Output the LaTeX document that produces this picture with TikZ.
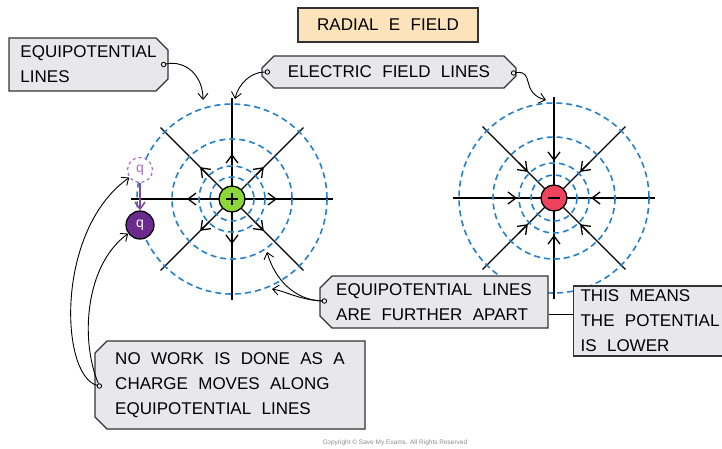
\documentclass[tikz,border=0pt]{standalone}
\usepackage{fontspec}
\setmainfont{Liberation Sans}[WordSpace=2.2]
\newfontfamily\plainsans{Liberation Sans}
\usetikzlibrary{arrows.meta,shapes.misc,calc}

\definecolor{eqblue}{HTML}{2380CC}
\definecolor{boxgrey}{HTML}{E8E8EB}
\definecolor{titlepeach}{HTML}{FDE3BC}
\definecolor{posgreen}{HTML}{8CD63A}
\definecolor{negred}{HTML}{F0425C}
\definecolor{qpurple}{HTML}{6A2A8E}
\definecolor{qlilac}{HTML}{A36BCB}

\tikzset{
  equip/.style={eqblue, line width=1.6pt, dash pattern=on 6pt off 4pt},
  fline/.style={line width=1.3pt},
  ftip/.style={-{Straight Barb[length=8pt,width=12pt]}},
  charge/.style={circle, draw, line width=1.3pt, minimum size=26pt, inner sep=0pt},
  labelbox/.style={draw=black!80, fill=boxgrey, line width=1.2pt,
    font=\fontsize{17}{25}\selectfont, align=left, inner sep=0pt},
  chamf/.style={chamfered rectangle, chamfered rectangle xsep=6pt,
    chamfered rectangle ysep=6pt, chamfered rectangle corners={#1}},
  note/.style={line width=0.9pt, -{Straight Barb[length=6pt,width=10pt]}},
  pindot/.style={circle, draw, fill=boxgrey, inner sep=0pt, minimum size=4.5pt, line width=0.8pt},
}

\begin{document}
\begin{tikzpicture}[x=1pt, y=-1pt]
  \useasboundingbox (0,0) rectangle (722,448);

  %%%%%%%%%%%%%%%%%%%%%%%%%%%%%%%%%%%%%%%%%%%%%%%%%
  % Positive charge: field lines point outwards
  \coordinate (pc) at (232,199);
  \foreach \a in {0,45,...,315} {
    \draw[fline] (pc) -- ++(\a:101);
    \draw[fline, ftip] (pc) ++(\a:32) -- ++(\a:13);
  }
  \foreach \r in {22,33,60,95}
    \draw[equip] (pc) circle[radius=\r];
  \node[charge, fill=posgreen] (pos) at (pc) {};
  \draw[line width=1.5pt] ($(pos)+(-6,0)$) -- ($(pos)+(6,0)$)
                          ($(pos)+(0,-6)$) -- ($(pos)+(0,6)$);

  %%%%%%%%%%%%%%%%%%%%%%%%%%%%%%%%%%%%%%%%%%%%%%%%%
  % Negative charge: field lines point inwards
  \coordinate (nc) at (554,198);
  \foreach \a in {0,45,...,315} {
    \draw[fline] (nc) -- ++(\a:101);
    \draw[fline, ftip] (nc) ++(\a:50) -- ++(\a+180:13);
  }
  \foreach \r in {23,35,61,95}
    \draw[equip] (nc) circle[radius=\r];
  \node[charge, fill=negred] (neg) at (nc) {};
  \draw[line width=1.5pt] ($(neg)+(-6,0)$) -- ($(neg)+(6,0)$);

  %%%%%%%%%%%%%%%%%%%%%%%%%%%%%%%%%%%%%%%%%%%%%%%%%
  % Test charge moved along the outer equipotential
  \node[circle, draw=qlilac, dashed, line width=1.2pt, fill=white, text=qlilac,
        minimum size=25pt, inner sep=0pt, font=\plainsans\fontsize{14}{14}\selectfont] (qa) at (140,170) {q};
  \node[circle, draw, line width=1.2pt, fill=qpurple, text=white,
        minimum size=28pt, inner sep=0pt, font=\plainsans\fontsize{14}{14}\selectfont] (qb) at (140,225) {q};
  \draw[qpurple!85, line width=1.6pt, -{Straight Barb[length=7pt,width=10pt]}] (qa) -- (qb);

  %%%%%%%%%%%%%%%%%%%%%%%%%%%%%%%%%%%%%%%%%%%%%%%%%
  % Labels
  \node[draw=black!80, fill=titlepeach, line width=1.2pt, inner sep=0pt,
        minimum width=180pt, minimum height=34pt,
        font=\fontsize{17}{25}\selectfont] (title) at (388,25) {RADIAL E FIELD};

  \node[labelbox, chamf={north east,south east}, minimum width=159pt,
        minimum height=53pt] (equi) at (88.5,64.5) {EQUIPOTENTIAL\\LINES};

  \node[labelbox, chamf={north west,south west,north east,south east},
        minimum width=254pt, minimum height=32pt] (efl) at (389,72) {ELECTRIC FIELD LINES};

  \node[labelbox, chamf={north west,south west}, minimum width=228pt,
        minimum height=52pt] (further) at (434,302) {EQUIPOTENTIAL LINES\\ARE FURTHER APART};

  \node[labelbox, anchor=west, inner xsep=7pt,
        minimum height=70pt] (lower) at (573,321)
        {THIS MEANS\\THE POTENTIAL\\IS LOWER};

  \node[labelbox, chamf={north west,south west}, minimum width=270pt,
        minimum height=88pt] (nowork) at (230,385)
        {NO WORK IS DONE AS A\\CHARGE MOVES ALONG\\EQUIPOTENTIAL LINES};

  \node[text=black!45, font=\plainsans\fontsize{6.5}{7}\selectfont] (copy) at (395,443)
        {Copyright \textcopyright{} Save My Exams. All Rights Reserved};

  %%%%%%%%%%%%%%%%%%%%%%%%%%%%%%%%%%%%%%%%%%%%%%%%%
  % Pointers
  \node[pindot] (d1) at ($(equi.east)+(-5,0)$) {};
  \node[pindot] (d2) at ($(efl.west)+(6,0)$) {};
  \node[pindot] (d3) at ($(efl.east)+(-3,1)$) {};
  \node[pindot] (d4) at ($(further.west)+(5,-1)$) {};
  \node[pindot] (d5) at ($(nowork.west)+(5,1)$) {};

  \coordinate (outer top) at (203,100);
  \coordinate (pos top) at (235,99);
  \coordinate (neg top) at (546,100);
  \coordinate (ring three) at (267,252);
  \coordinate (ring four) at (272,289);

  \draw[note] (d1) .. controls (185,60) and (203,75) .. (outer top);
  \draw[note] (d2) .. controls (250,72) and (238,85) .. (pos top);
  \draw[note] (d3) .. controls (535,70) and (520,93) .. (neg top);
  \draw[note] (d4) .. controls (295,300) and (275,280) .. (ring three);
  \draw[note] (d4) .. controls (300,300) and (285,291) .. (ring four);
  \draw[note] (d5) .. controls (60,375) and (55,230) .. (qa);
  \draw[note] (d5) .. controls (80,340) and (85,265) .. (qb);

  \draw[line width=1.2pt] (further.south east) ++(0,-14) coordinate (fj) -- (fj -| lower.west);

\end{tikzpicture}
\end{document}
